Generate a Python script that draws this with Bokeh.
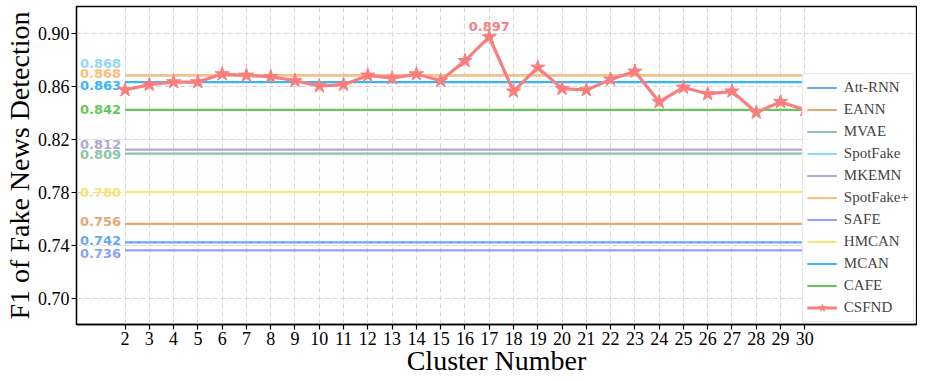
from bokeh.plotting import figure
from bokeh.models import Range1d, FixedTicker, Legend, LegendItem, ColumnDataSource, CustomJSTickFormatter
from bokeh.embed import file_html
from bokeh.resources import INLINE
from bokeh.core.properties import value

# ---------------- data ----------------
clusters = list(range(2, 31))
csfnd = [0.857, 0.861, 0.863, 0.863, 0.869, 0.868, 0.867, 0.864, 0.860, 0.861,
         0.868, 0.866, 0.869, 0.864, 0.879, 0.897, 0.856, 0.874, 0.858, 0.857,
         0.865, 0.871, 0.848, 0.859, 0.854, 0.856, 0.840, 0.848, 0.842]
baseline_names = ["Att-RNN", "EANN", "MVAE", "SpotFake", "MKEMN", "SpotFake+",
                  "SAFE", "HMCAN", "MCAN", "CAFE"]
baseline_scores = [0.742, 0.756, 0.809, 0.868, 0.812, 0.868, 0.736, 0.780, 0.863, 0.842]
y_ticks = [0.70, 0.74, 0.78, 0.82, 0.86, 0.90]
x_ticks = clusters

# ---------------- style ----------------
baseline_colors = ["#6AA6F2", "#E2A775", "#8CC4A6", "#94D6FA", "#B3A6D6",
                   "#FFBD78", "#8DA0FC", "#F9E56E", "#36B5F8", "#64C759"]
label_offsets = {"Att-RNN": -2, "EANN": -2, "MVAE": 1, "SpotFake": -12, "MKEMN": -5,
                 "SpotFake+": -2, "SAFE": 3, "HMCAN": 0, "MCAN": 3, "CAFE": 0}
csfnd_color = "#F97F7F"
serif = "Liberation Serif"

p = figure(width=917, height=378, output_backend="svg", toolbar_location=None,
           x_range=Range1d(0, 34.6), y_range=Range1d(0.68, 0.92),
           min_border_left=73, min_border_right=1, min_border_top=6, min_border_bottom=10)

# axes
p.xaxis.ticker = FixedTicker(ticks=x_ticks)
p.yaxis.ticker = FixedTicker(ticks=y_ticks)
p.yaxis.formatter = CustomJSTickFormatter(code="return tick.toFixed(2);")
for ax in (p.xaxis, p.yaxis):
    ax.major_label_text_font = serif
    ax.major_label_text_font_size = "18px"
    ax.major_label_text_color = "black"
    ax.axis_label_text_font = serif
    ax.axis_label_text_font_size = "28px"
    ax.axis_label_text_font_style = "normal"
    ax.axis_label_text_color = "black"
    ax.minor_tick_line_color = None
    ax.major_tick_out = 5
    ax.major_tick_in = 0
    ax.major_tick_line_width = 1.2
    ax.axis_line_width = 1.3
    ax.axis_line_color = "black"
    ax.major_tick_line_color = "black"
    ax.major_label_standoff = 2
p.xaxis.axis_label_standoff = -3
p.yaxis.axis_label_standoff = 0
p.xaxis.axis_label = "Cluster Number"
p.yaxis.axis_label = "F1 of Fake News Detection"

p.outline_line_color = "black"
p.outline_line_width = 1.3

p.xgrid.grid_line_color = "#d6d6d6"
p.ygrid.grid_line_color = "#d6d6d6"
p.xgrid.grid_line_dash = "5 3"
p.ygrid.grid_line_dash = "5 3"
p.xgrid.grid_line_width = 1
p.ygrid.grid_line_width = 1

items = []
x0, x1 = clusters[0], clusters[-1]
for name, score, col in zip(baseline_names, baseline_scores, baseline_colors):
    r = p.line([x0, x1], [score, score], line_color=col, line_width=2.2)
    items.append(LegendItem(label=name, renderers=[r]))
    p.text(x=[x0], y=[score], text=[f"{score:.3f}"], x_offset=-4, y_offset=label_offsets[name],
           text_align="right", text_baseline="middle", text_font=value("DejaVu Sans"),
           text_font_style="bold", text_font_size="13px", text_color=col)

src = ColumnDataSource(dict(x=clusters, y=csfnd))
rl = p.line("x", "y", source=src, line_color=csfnd_color, line_width=3.2)
rs = p.scatter("x", "y", source=src, marker="star", size=15, fill_color=csfnd_color,
               line_color=csfnd_color)
items.append(LegendItem(label="CSFND", renderers=[rl, rs]))

imax = csfnd.index(max(csfnd))
p.text(x=[clusters[imax]], y=[csfnd[imax]], text=[f"{csfnd[imax]:.3f}"], y_offset=-6,
       text_align="center", text_baseline="bottom", text_font=value("DejaVu Sans"),
       text_font_style="bold", text_font_size="13px", text_color=csfnd_color)

legend = Legend(items=items, location="bottom_right", margin=2, padding=4, spacing=3,
                label_text_font=serif, label_text_font_size="15px",
                glyph_width=30, glyph_height=19, label_height=19, label_standoff=7,
                border_line_color="#cccccc", border_line_width=1,
                background_fill_alpha=0.9)
p.add_layout(legend)

open("out.html", "w").write(file_html(p, INLINE))
